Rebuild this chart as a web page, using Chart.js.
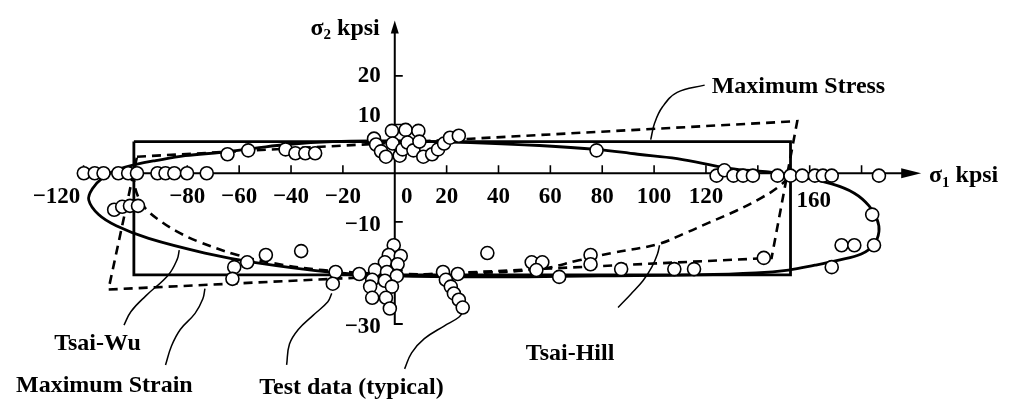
<!DOCTYPE html>
<html>
<head>
<meta charset="utf-8">
<script src="https://cdn.jsdelivr.net/npm/chart.js@4.4.1/dist/chart.umd.min.js"></script>
<style>
  html, body { margin: 0; padding: 0; background: #fff; }
  #wrap { width: 1011px; height: 405px; }
</style>
</head>
<body>
<div id="wrap"><canvas id="envelope" width="1011" height="405"></canvas></div>
<script>
// stress plane in kpsi: sigma1 (fibre direction) vs sigma2 (transverse)
const xRange = [-149.1, 234.5];
const yRange = [-45.96, 33.93];

const xTicks = [-120, -100, -80, -60, -40, -20, 20, 40, 60, 80, 100, 120, 140, 160, 180];
const xTickLabels = [-120, -80, -60, -40, -20, 0, 20, 40, 60, 80, 100, 120, 160];
const yTicks = [20, 10, -10, -20, -30];
const yTickLabels = [20, 10, -10, -30];

// failure envelopes, [sigma1, sigma2]
const maxStress = [[-100.6, 6.5], [152.6, 6.5], [152.6, -20.9], [-100.6, -20.9], [-100.6, 6.5]];
const maxStrain = [[-99.4, 3.4], [155.2, 10.7], [145.3, -17.4], [-110.4, -23.9], [-99.4, 3.4]];

const tsaiWu = [
  [0, 6.7], [29.2, 6.3], [55.8, 5.7], [77.8, 4.9], [93.7, 3.9], [108.9, 3.0], [129.0, 1.0],
  [143.1, 0.3], [153.3, -0.4], [168.5, -2.2], [177.2, -4.1], [182.9, -6.7], [186.0, -9.5],
  [186.7, -12.0], [184.8, -14.6], [179.9, -16.6], [170.8, -17.9], [162.0, -18.9], [151.8, -19.9],
  [139.3, -20.5], [116.5, -20.9], [78.6, -21.1], [40.6, -21.3], [0, -21.1], [-25.0, -20.3],
  [-54.3, -18.3], [-73.2, -16.4], [-94.9, -13.4], [-107.4, -10.8], [-114.2, -8.5], [-118.0, -5.5],
  [-116.6, -3.2], [-112.3, -0.8], [-106.6, 0.8], [-99.8, 1.8], [-92.2, 2.6], [-80.8, 3.6],
  [-66.8, 4.3], [-54.3, 5.1], [-41.7, 5.9], [-23.9, 6.5], [0, 6.7]
];

const tsaiHill = [
  [-100.6, 0], [-100.2, -2.8], [-98.3, -5.5], [-95.3, -7.7], [-89.6, -10.1], [-83.9, -12.0],
  [-75.9, -14.0], [-60.7, -16.8], [-46.7, -18.5], [-27.7, -19.9], [0, -20.7], [29.2, -20.5],
  [55.8, -19.7], [71.0, -17.9], [83.5, -16.4], [101.3, -14.6], [111.6, -12.4], [121.4, -10.1],
  [131.7, -7.7], [141.2, -5.1], [148.0, -2.8], [151.8, -0.8], [152.6, 0]
];

// measured failure points
const testData = [
  [-119.9, 0], [-115.7, 0], [-112.3, 0], [-106.6, 0], [-102.8, 0], [-99.4, 0], [-91.5, 0],
  [-88.4, 0], [-85.0, 0], [-80.1, 0], [-72.5, 0],
  [-108.2, -7.5], [-105.1, -6.9], [-102.1, -6.7], [-99.0, -6.7],
  [-64.5, 3.9], [-56.5, 4.7], [-42.1, 4.9], [-38.3, 4.1], [-34.5, 4.1], [-30.7, 4.1],
  [-8.0, 7.1], [-7.2, 5.9], [-5.3, 4.5], [-3.4, 3.4], [-1.1, 8.7], [-0.8, 6.1], [1.9, 3.6],
  [3.0, 4.9], [4.2, 8.9], [4.9, 6.3], [7.2, 4.7], [9.1, 8.7], [9.5, 6.5], [11.0, 3.4],
  [14.4, 3.9], [16.7, 4.9], [19.0, 6.1], [21.3, 7.3], [24.7, 7.7],
  [-0.4, -14.8], [-2.3, -16.8], [2.3, -17.0], [-3.8, -18.3], [1.1, -18.7], [-7.6, -19.9],
  [-3.0, -20.3], [0.8, -21.1], [-8.7, -21.9], [-3.8, -22.1], [-9.5, -23.3], [-1.1, -23.3],
  [-8.7, -25.6], [-3.4, -25.6], [-1.9, -27.8],
  [-13.7, -20.7], [-22.8, -20.3], [-23.9, -22.7],
  [18.6, -20.3], [24.3, -20.7], [19.7, -21.9], [21.6, -23.3], [22.8, -24.7], [24.7, -26.0], [26.2, -27.6],
  [-61.9, -19.3], [-56.9, -18.3], [-49.7, -16.8], [-62.6, -21.7], [-36.1, -16.0],
  [35.7, -16.4], [52.8, -18.3], [56.9, -18.3], [54.6, -19.9], [63.4, -21.3], [75.5, -16.8],
  [75.5, -18.7], [87.3, -19.7], [107.8, -19.7], [115.4, -19.7], [142.3, -17.4],
  [124.1, -0.5], [127.1, 0.6], [130.6, -0.5], [134.3, -0.5], [138.1, -0.5], [147.6, -0.5],
  [152.6, -0.5], [157.1, -0.5], [162.0, -0.5], [165.1, -0.5], [168.5, -0.5], [186.7, -0.5],
  [184.1, -8.5], [172.3, -14.8], [177.2, -14.8], [184.8, -14.8], [168.5, -19.3], [77.8, 4.7]
];

// callout leaders, from the text to the curve
const leaderMaxStress = [[119.5, 18.1], [108.9, 16.6], [103.2, 13.6], [100.2, 10.3], [98.7, 6.9]];
const leaderTsaiWu = [[-104.4, -31.2], [-101.7, -28.4], [-96.0, -25.2], [-87.3, -20.9], [-83.9, -17.7], [-83.1, -15.8]];
const leaderMaxStrain = [[-88.4, -39.4], [-86.1, -35.5], [-82.7, -32.1], [-77.0, -28.8], [-74.0, -25.8], [-73.2, -23.7]];
const leaderTestLeft = [[-41.7, -39.4], [-40.6, -35.1], [-37.2, -32.1], [-31.5, -29.2], [-25.8, -26.4], [-24.3, -24.7]];
const leaderTestRight = [[3.8, -40.2], [6.5, -36.9], [11.4, -34.0], [19.0, -31.4], [24.7, -29.6], [26.6, -28.2]];
const leaderTsaiHill = [[86.1, -27.6], [91.1, -24.8], [95.7, -22.1], [99.1, -19.3], [101.3, -16.6], [102.1, -14.8]];

const notes = [
  { text: 'Maximum Stress', at: [122.2, 17.7], align: 'left' },
  { text: 'Tsai-Wu', at: [-114.6, -35.1], align: 'center' },
  { text: 'Maximum Strain', at: [-112.0, -43.6], align: 'center' },
  { text: 'Test data (typical)', at: [-16.7, -44.0], align: 'center' },
  { text: 'Tsai-Hill', at: [67.6, -37.1], align: 'center' }
];

const pts = arr => arr.map(([x, y]) => ({ x, y }));
const FONT = '"Liberation Serif", "Times New Roman", serif';
const minus = v => (v < 0 ? '\u2212' + Math.abs(v) : String(v));

function curve(data, opts) {
  return {
    data: pts(data),
    showLine: true,
    borderColor: '#000',
    borderWidth: opts.width,
    borderDash: opts.dashed ? [9, 6] : [],
    borderJoinStyle: 'miter',
    tension: opts.tension,
    pointRadius: 0,
    fill: false,
    order: opts.order
  };
}

const leader = data => curve(data, { width: 1.5, tension: 0.4, order: 3 });

function arrowHead(ctx, tx, ty, dx, dy, len, half) {
  ctx.beginPath();
  ctx.moveTo(tx, ty);
  ctx.lineTo(tx - dx * len - dy * half, ty - dy * len + dx * half);
  ctx.lineTo(tx - dx * len + dy * half, ty - dy * len - dx * half);
  ctx.closePath();
  ctx.fill();
}

// "σ" with a subscript, followed by the unit
function sigmaLabel(ctx, sub, x, y, align) {
  const big = 'bold 24px ' + FONT, small = 'bold 15px ' + FONT;
  ctx.font = big;
  const w1 = ctx.measureText('\u03c3').width;
  const w3 = ctx.measureText(' kpsi').width;
  ctx.font = small;
  const w2 = ctx.measureText(sub).width;
  const sx = align === 'right' ? x - (w1 + w2 + w3) : x;
  ctx.textAlign = 'left';
  ctx.textBaseline = 'middle';
  ctx.font = big;
  ctx.fillText('\u03c3', sx, y);
  ctx.font = small;
  ctx.fillText(sub, sx + w1, y + 7);
  ctx.font = big;
  ctx.fillText(' kpsi', sx + w1 + w2, y);
}

const axesPlugin = {
  id: 'stressAxes',
  beforeDatasetsDraw(chart) {
    const { ctx, scales: { x, y } } = chart;
    const x0 = x.getPixelForValue(0), y0 = y.getPixelForValue(0);
    ctx.save();
    ctx.strokeStyle = '#000';
    ctx.fillStyle = '#000';
    ctx.lineWidth = 2;

    // sigma1 axis with arrow
    const xs = x.getPixelForValue(-120), xe = x.getPixelForValue(203);
    ctx.beginPath();
    ctx.moveTo(xs, y0);
    ctx.lineTo(xe - 12, y0);
    ctx.stroke();
    arrowHead(ctx, xe, y0, 1, 0, 20, 5);

    // sigma2 axis with arrow, ends in the -30 tick
    const yt = y.getPixelForValue(31.4), yb = y.getPixelForValue(-31);
    ctx.beginPath();
    ctx.moveTo(x0, yt + 8);
    ctx.lineTo(x0, yb);
    ctx.lineTo(x0 + 8, yb);
    ctx.stroke();
    arrowHead(ctx, x0, yt, 0, -1, 13, 4);

    ctx.lineWidth = 1.6;
    ctx.beginPath();
    xTicks.forEach(v => {
      const px = x.getPixelForValue(v);
      ctx.moveTo(px, y0);
      ctx.lineTo(px, y0 - 8);
    });
    yTicks.forEach(v => {
      if (v === -30) return;
      const py = y.getPixelForValue(v);
      ctx.moveTo(x0, py);
      ctx.lineTo(x0 + 8, py);
    });
    ctx.stroke();
    ctx.restore();
  },
  afterDatasetsDraw(chart) {
    const { ctx, scales: { x, y } } = chart;
    const x0 = x.getPixelForValue(0), y0 = y.getPixelForValue(0);
    ctx.save();
    ctx.fillStyle = '#000';

    // tick values
    ctx.font = 'bold 23px ' + FONT;
    ctx.textAlign = 'center';
    ctx.textBaseline = 'middle';
    const xShift = { '-120': -27, '0': 12, '160': 4 };
    xTickLabels.forEach(v => {
      const px = x.getPixelForValue(v) + (xShift[v] || 0);
      ctx.fillText(minus(v), px, y0 + (v === 160 ? 28 : 24));
    });
    ctx.textAlign = 'right';
    const yShift = { '10': -8, '-10': 3, '-30': 8 };
    yTickLabels.forEach(v => {
      ctx.fillText(minus(v), x0 - 14, y.getPixelForValue(v) + (yShift[v] || 0));
    });

    // axis titles
    sigmaLabel(ctx, '2', x0 - 15, y.getPixelForValue(31.4) + 8, 'right');
    sigmaLabel(ctx, '1', x.getPixelForValue(206), y0 + 3, 'left');

    // curve names
    ctx.font = 'bold 24px ' + FONT;
    ctx.textBaseline = 'middle';
    notes.forEach(n => {
      ctx.textAlign = n.align;
      ctx.fillText(n.text, x.getPixelForValue(n.at[0]), y.getPixelForValue(n.at[1]));
    });
    ctx.restore();
  }
};

new Chart(document.getElementById('envelope'), {
  type: 'scatter',
  data: {
    datasets: [
      {
        data: pts(testData),
        pointStyle: 'circle',
        pointRadius: 6.5,
        pointBackgroundColor: '#fff',
        pointBorderColor: '#000',
        pointBorderWidth: 1.6,
        showLine: false,
        order: 0
      },
      curve(tsaiWu, { width: 2.8, tension: 0.4, order: 1 }),
      curve(maxStress, { width: 2.8, tension: 0, order: 2 }),
      curve(maxStrain, { width: 2.6, tension: 0, dashed: true, order: 2 }),
      curve(tsaiHill, { width: 2.6, tension: 0.4, dashed: true, order: 2 }),
      leader(leaderMaxStress),
      leader(leaderTsaiWu),
      leader(leaderMaxStrain),
      leader(leaderTestLeft),
      leader(leaderTestRight),
      leader(leaderTsaiHill)
    ]
  },
  options: {
    responsive: false,
    animation: false,
    devicePixelRatio: 1,
    layout: { padding: 0 },
    plugins: { legend: { display: false }, tooltip: { enabled: false } },
    scales: {
      x: { type: 'linear', min: xRange[0], max: xRange[1], display: false },
      y: { type: 'linear', min: yRange[0], max: yRange[1], display: false }
    }
  },
  plugins: [axesPlugin]
});
</script>
</body>
</html>
